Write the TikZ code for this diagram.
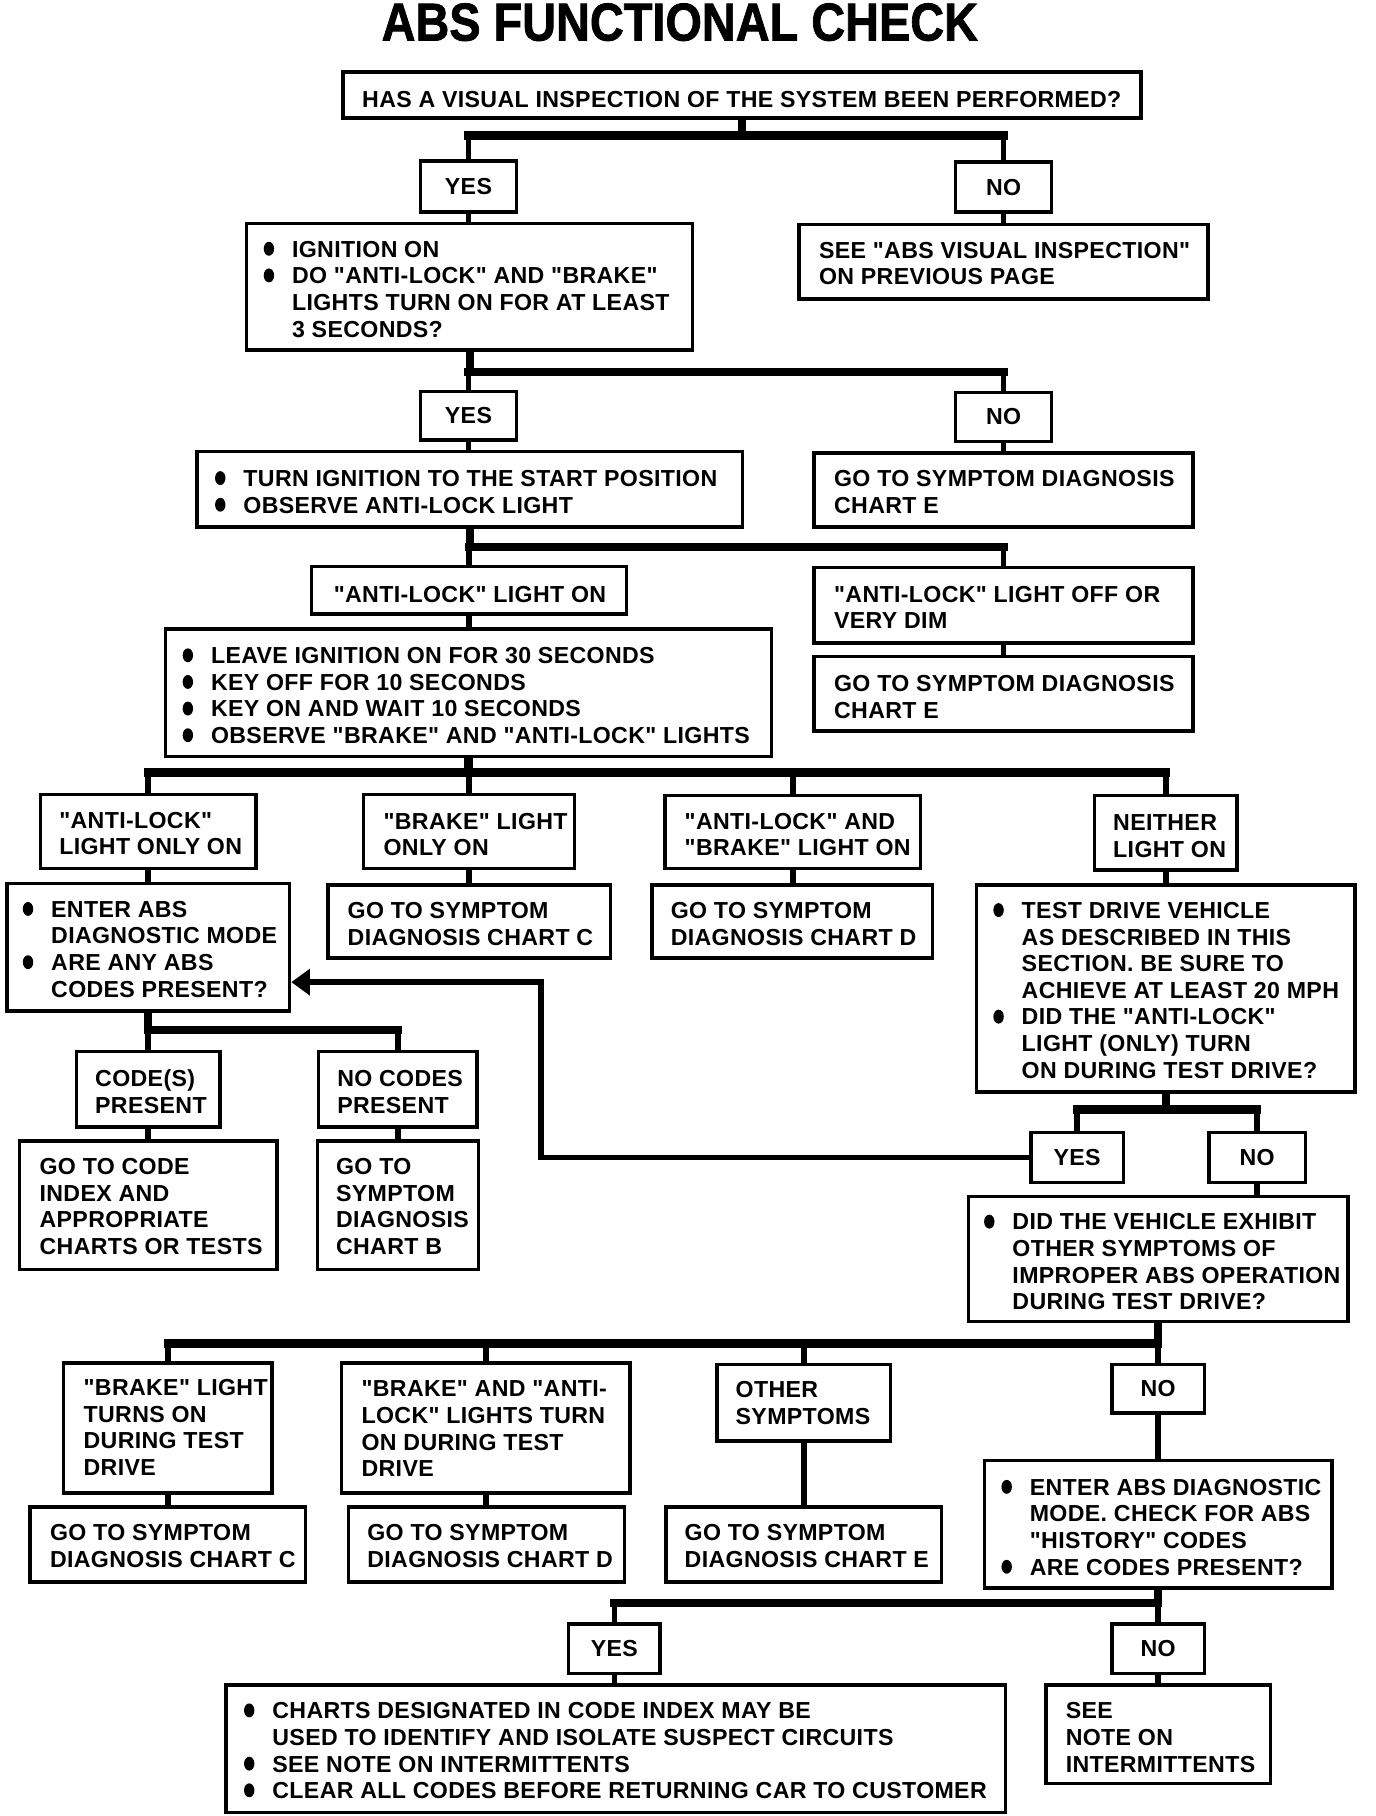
\documentclass[tikz,border=0pt]{standalone}
\usepackage{fontspec}
\usepackage{graphicx}
\setmainfont{Liberation Sans}[Ligatures=TeXOff]
\newfontfamily\bodyfam{Liberation Sans}[Ligatures=TeXOff,LetterSpace=1.5]
\newfontfamily\titlefam{Liberation Sans}[Ligatures=TeXOff,FakeBold=1.5]
\usetikzlibrary{arrows.meta}
\pgfdeclarelayer{background}
\pgfsetlayers{background,main}
\newcommand{\bodyfont}{\bodyfam\fontsize{20}{23}\selectfont\bfseries}
\newcommand{\blt}{\llap{\tikz[x=1pt,y=1pt,baseline=0pt]\fill (4.5pt,7.2pt) ellipse [x radius=4.5pt, y radius=6pt];\hspace{15.5pt}}}
\tikzset{
  box/.style={draw, line width=3pt, fill=white, inner sep=0pt},
  txt/.style={anchor=base west, inner sep=0pt, font=\bodyfont},
  drop/.style={line width=5pt},
  trunk/.style={line width=7pt},
  barl/.style={line width=7pt, line cap=rect},
}
\newcommand{\mkbox}[6]{\path ({(#2+#4)/2},{(#3+#5)/2}) node[box, minimum width={(#4-#2)*1pt}, minimum height={(#5-#3)*1pt}, font=\bodyfont] (#1) {#6};}
\newcommand{\mktext}[4]{\node[txt] (#1) at (#2,#3) {\begin{tabular}[t]{@{}l@{}}#4\end{tabular}};}
\begin{document}
\begin{tikzpicture}[x=1pt,y=-1pt]
\useasboundingbox (0,0) rectangle (1188,1568);
\begin{pgfonlayer}{background}
\fill[white] (0,0) rectangle (1188,1568);
\end{pgfonlayer}
\node[font=\titlefam\fontsize{46}{50}\selectfont\bfseries, anchor=base, inner sep=0pt] (title) at (587,35) {\scalebox{0.88}[1]{ABS FUNCTIONAL CHECK}};
% boxes
\mkbox{q1}{296}{62}{985}{102}{}
\node[anchor=base, inner sep=0pt, font=\bodyfont] (tq1) at (640.5,93) {HAS A VISUAL INSPECTION OF THE SYSTEM BEEN PERFORMED?};
\mkbox{yes1}{363}{139}{446}{183}{YES}
\mkbox{no1}{825}{140}{908}{183}{NO}
\mkbox{b3}{213}{193}{598}{302}{}
\mktext{t3}{252}{222}{\blt IGNITION ON\\\blt DO "ANTI-LOCK" AND "BRAKE"\\LIGHTS TURN ON FOR AT LEAST\\3 SECONDS?}
\mkbox{b4}{690}{194}{1043}{258}{}
\mktext{t4}{707}{223}{SEE "ABS VISUAL INSPECTION"\\ON PREVIOUS PAGE}
\mkbox{yes2}{363}{338}{446}{380}{YES}
\mkbox{no2}{825}{339}{908}{381}{NO}
\mkbox{b6}{170}{390}{641}{455}{}
\mktext{t6}{210}{420}{\blt TURN IGNITION TO THE START POSITION\\\blt OBSERVE ANTI-LOCK LIGHT}
\mkbox{b7}{703}{391}{1030}{455}{}
\mktext{t7}{720}{420}{GO TO SYMPTOM DIAGNOSIS\\CHART E}
\mkbox{b8}{269}{489}{541}{530}{}
\mktext{t8}{288}{520}{"ANTI-LOCK" LIGHT ON}
\mkbox{b9}{703}{490}{1030}{555}{}
\mktext{t9}{720}{520}{"ANTI-LOCK" LIGHT OFF OR\\VERY DIM}
\mkbox{b10}{703}{567}{1030}{631}{}
\mktext{t10}{720}{597}{GO TO SYMPTOM DIAGNOSIS\\CHART E}
\mkbox{b11}{143}{543}{666}{653}{}
\mktext{t11}{182}{573}{\blt LEAVE IGNITION ON FOR 30 SECONDS\\\blt KEY OFF FOR 10 SECONDS\\\blt KEY ON AND WAIT 10 SECONDS\\\blt OBSERVE "BRAKE" AND "ANTI-LOCK" LIGHTS}
\mkbox{b12a}{35}{686}{221}{750}{}
\mktext{t12a}{51}{715}{"ANTI-LOCK"\\LIGHT ONLY ON}
\mkbox{b12b}{314}{686}{496}{750}{}
\mktext{t12b}{331}{716}{"BRAKE" LIGHT\\ONLY ON}
\mkbox{b12c}{574}{687}{795}{750}{}
\mktext{t12c}{591}{716}{"ANTI-LOCK" AND\\"BRAKE" LIGHT ON}
\mkbox{b12d}{945}{687}{1068}{751}{}
\mktext{t12d}{961}{717}{NEITHER\\LIGHT ON}
\mkbox{b13}{6}{763}{250}{873}{}
\mktext{t13}{44}{792}{\blt ENTER ABS\\DIAGNOSTIC MODE\\\blt ARE ANY ABS\\CODES PRESENT?}
\mkbox{b14}{283}{764}{527}{827}{}
\mktext{t14}{300}{793}{GO TO SYMPTOM\\DIAGNOSIS CHART C}
\mkbox{b15}{563}{764}{805}{827}{}
\mktext{t15}{579}{793}{GO TO SYMPTOM\\DIAGNOSIS CHART D}
\mkbox{b16}{843}{764}{1170}{943}{}
\mktext{t16}{882}{793}{\blt TEST DRIVE VEHICLE\\AS DESCRIBED IN THIS\\SECTION. BE SURE TO\\ACHIEVE AT LEAST 20 MPH\\\blt DID THE "ANTI-LOCK"\\LIGHT (ONLY) TURN\\ON DURING TEST DRIVE?}
\mkbox{c17a}{66}{908}{190}{973}{}
\mktext{t17a}{82}{938}{CODE(S)\\PRESENT}
\mkbox{c17b}{275}{908}{412}{973}{}
\mktext{t17b}{291}{938}{NO CODES\\PRESENT}
\mkbox{b18a}{17}{985}{239}{1096}{}
\mktext{t18a}{34}{1014}{GO TO CODE\\INDEX AND\\APPROPRIATE\\CHARTS OR TESTS}
\mkbox{b18b}{274}{985}{413}{1096}{}
\mktext{t18b}{290}{1014}{GO TO\\SYMPTOM\\DIAGNOSIS\\CHART B}
\mkbox{yes3}{890}{978}{970}{1021}{YES}
\mkbox{no3}{1044}{978}{1127}{1021}{NO}
\mkbox{b20}{836}{1033}{1164}{1141}{}
\mktext{t20}{874}{1062}{\blt DID THE VEHICLE EXHIBIT\\OTHER SYMPTOMS OF\\IMPROPER ABS OPERATION\\DURING TEST DRIVE?}
\mkbox{b21a}{55}{1177}{235}{1289}{}
\mktext{t21a}{72}{1205}{"BRAKE" LIGHT\\TURNS ON\\DURING TEST\\DRIVE}
\mkbox{b21b}{295}{1177}{544}{1289}{}
\mktext{t21b}{312}{1206}{"BRAKE" AND "ANTI-\\LOCK" LIGHTS TURN\\ON DURING TEST\\DRIVE}
\mkbox{b21c}{619}{1178}{769}{1244}{}
\mktext{t21c}{635}{1207}{OTHER\\SYMPTOMS}
\mkbox{no4}{960}{1178}{1040}{1220}{NO}
\mkbox{b22a}{26}{1301}{264}{1366}{}
\mktext{t22a}{43}{1330}{GO TO SYMPTOM\\DIAGNOSIS CHART C}
\mkbox{b22b}{301}{1301}{539}{1366}{}
\mktext{t22b}{317}{1330}{GO TO SYMPTOM\\DIAGNOSIS CHART D}
\mkbox{b22c}{575}{1301}{813}{1366}{}
\mktext{t22c}{591}{1330}{GO TO SYMPTOM\\DIAGNOSIS CHART E}
\mkbox{b23}{850}{1261}{1150}{1371}{}
\mktext{t23}{889}{1291}{\blt ENTER ABS DIAGNOSTIC\\MODE. CHECK FOR ABS\\"HISTORY" CODES\\\blt ARE CODES PRESENT?}
\mkbox{yes5}{491}{1402}{570}{1445}{YES}
\mkbox{no5}{960}{1402}{1040}{1445}{NO}
\mkbox{b25}{195}{1455}{868}{1565}{}
\mktext{t25}{235}{1484}{\blt CHARTS DESIGNATED IN CODE INDEX MAY BE\\USED TO IDENTIFY AND ISOLATE SUSPECT CIRCUITS\\\blt SEE NOTE ON INTERMITTENTS\\\blt CLEAR ALL CODES BEFORE RETURNING CAR TO CUSTOMER}
\mkbox{b26}{903}{1455}{1097}{1540}{}
\mktext{t26}{920}{1484}{SEE\\NOTE ON\\INTERMITTENTS}
% connectors
\begin{pgfonlayer}{background}
\coordinate (j1) at (640.5,117);
\draw[trunk] (q1.south) -- (j1);
\draw[barl] (yes1.north |- j1) -- (no1.north |- j1);
\draw[drop] (yes1.north |- j1) -- (yes1.north);
\draw[drop] (no1.north |- j1) -- (no1.north);
\draw[drop] (yes1.south) -- (yes1.south |- b3.north);
\draw[drop] (no1.south) -- (no1.south |- b4.north);
\coordinate (j2) at (405.5,321);
\draw[trunk] (b3.south) -- (j2);
\draw[barl] (yes2.north |- j2) -- (no2.north |- j2);
\draw[drop] (yes2.north |- j2) -- (yes2.north);
\draw[drop] (no2.north |- j2) -- (no2.north);
\draw[drop] (yes2.south) -- (yes2.south |- b6.north);
\draw[drop] (no2.south) -- (no2.south |- b7.north);
\coordinate (j3) at (405.5,472);
\draw[trunk] (b6.south) -- (j3);
\draw[barl] (b8.north |- j3) -- (b9.north |- j3);
\draw[drop] (b8.north |- j3) -- (b8.north);
\draw[drop] (b9.north |- j3) -- (b9.north);
\draw[drop] (b8.south) -- (b8.south |- b11.north);
\draw[drop] (b9.south) -- (b9.south |- b10.north);
\coordinate (j4) at (404.5,667);
\draw[trunk] (b11.south) -- (j4);
\draw[barl] (b12a.north |- j4) -- (b12d.north |- j4);
\draw[drop] (b12a.north |- j4) -- (b12a.north);
\draw[drop] (b12b.north |- j4) -- (b12b.north);
\draw[drop] (b12c.north |- j4) -- (b12c.north);
\draw[drop] (b12d.north |- j4) -- (b12d.north);
\draw[drop] (b12a.south) -- (b12a.south |- b13.north);
\draw[drop] (b12b.south) -- (b12b.south |- b14.north);
\draw[drop] (b12c.south) -- (b12c.south |- b15.north);
\draw[drop] (b12d.south) -- (b12d.south |- b16.north);
\coordinate (j5) at (128,889);
\draw[trunk] (b13.south) -- (j5);
\draw[barl] (c17a.north |- j5) -- (c17b.north |- j5);
\draw[drop] (c17a.north |- j5) -- (c17a.north);
\draw[drop] (c17b.north |- j5) -- (c17b.north);
\draw[drop] (c17a.south) -- (c17a.south |- b18a.north);
\draw[drop] (c17b.south) -- (c17b.south |- b18b.north);
\coordinate (j6) at (1006.5,958);
\draw[trunk] (b16.south) -- (j6);
\draw[barl] (yes3.north |- j6) -- (no3.north |- j6);
\draw[drop] (yes3.north |- j6) -- (yes3.north);
\draw[drop] (no3.north |- j6) -- (no3.north);
\draw[drop] (no3.south) -- (no3.south |- b20.north);
\coordinate (a1) at (467,848);
\draw[drop, line join=miter, -{Triangle[length=16pt,width=22pt]}] (yes3.west) -| (a1) -- (a1 -| b13.east);
\coordinate (j7) at (1000,1160);
\draw[trunk] (b20.south) -- (j7);
\draw[barl] (b21a.north |- j7) -- (no4.north |- j7);
\draw[drop] (b21a.north |- j7) -- (b21a.north);
\draw[drop] (b21b.north |- j7) -- (b21b.north);
\draw[drop] (b21c.north |- j7) -- (b21c.north);
\draw[drop] (no4.north |- j7) -- (no4.north);
\draw[drop] (b21a.south) -- (b21a.south |- b22a.north);
\draw[drop] (b21b.south) -- (b21b.south |- b22b.north);
\draw[drop] (b21c.south) -- (b21c.south |- b22c.north);
\draw[drop] (no4.south) -- (no4.south |- b23.north);
\coordinate (j8) at (1000,1384);
\draw[trunk] (b23.south) -- (j8);
\draw[barl] (yes5.north |- j8) -- (no5.north |- j8);
\draw[drop] (yes5.north |- j8) -- (yes5.north);
\draw[drop] (no5.north |- j8) -- (no5.north);
\draw[drop] (yes5.south) -- (yes5.south |- b25.north);
\draw[drop] (no5.south) -- (no5.south |- b26.north);
\end{pgfonlayer}
\end{tikzpicture}
\end{document}
